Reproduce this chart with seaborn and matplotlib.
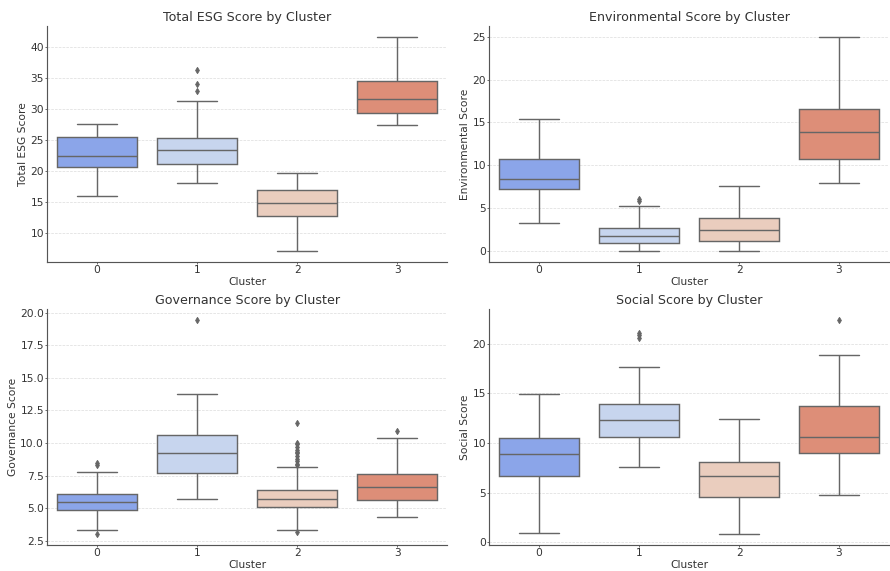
import numpy as np
import pandas as pd
import matplotlib
matplotlib.use("Agg")
import matplotlib.pyplot as plt
import seaborn as sns

clusters = ["0", "1", "2", "3"]

# Box summaries per score: lower whisker, Q1, median, Q3, upper whisker, outliers
esg_whisker_lo = [16.07, 18.05, 7.10, 27.50]
esg_q1 = [20.74, 21.20, 12.79, 29.38]
esg_median = [22.45, 23.37, 14.94, 31.63]
esg_q3 = [25.46, 25.35, 16.92, 34.58]
esg_whisker_hi = [27.66, 31.40, 19.66, 41.72]
esg_outliers = [[], [33.0, 34.1, 36.3], [], []]

env_whisker_lo = [3.33, 0.0, 0.0, 7.95]
env_q1 = [7.21, 0.97, 1.20, 10.70]
env_median = [8.37, 1.74, 2.52, 13.88]
env_q3 = [10.78, 2.75, 3.88, 16.63]
env_whisker_hi = [15.39, 5.31, 7.60, 25.0]
env_outliers = [[], [5.85, 6.1], [], []]

gov_whisker_lo = [3.34, 5.69, 3.30, 4.29]
gov_q1 = [4.88, 7.71, 5.11, 5.59]
gov_median = [5.44, 9.25, 5.67, 6.66]
gov_q3 = [6.05, 10.65, 6.38, 7.64]
gov_whisker_hi = [7.76, 13.74, 8.17, 10.39]
gov_outliers = [[2.99, 8.3, 8.5], [19.46],
                [3.15, 8.3, 8.4, 8.6, 8.8, 9.0, 9.2, 9.3, 9.5, 9.7, 9.9, 10.0, 11.5],
                [10.91]]

soc_whisker_lo = [0.94, 7.56, 0.81, 4.77]
soc_q1 = [6.66, 10.62, 4.57, 8.97]
soc_median = [8.87, 12.34, 6.66, 10.66]
soc_q3 = [10.55, 13.98, 8.10, 13.75]
soc_whisker_hi = [14.96, 17.71, 12.47, 18.86]
soc_outliers = [[], [20.6, 20.9, 21.1], [], [22.42]]

panels = [
    ("Total ESG Score", "Total ESG Score by Cluster",
     esg_whisker_lo, esg_q1, esg_median, esg_q3, esg_whisker_hi, esg_outliers),
    ("Environmental Score", "Environmental Score by Cluster",
     env_whisker_lo, env_q1, env_median, env_q3, env_whisker_hi, env_outliers),
    ("Governance Score", "Governance Score by Cluster",
     gov_whisker_lo, gov_q1, gov_median, gov_q3, gov_whisker_hi, gov_outliers),
    ("Social Score", "Social Score by Cluster",
     soc_whisker_lo, soc_q1, soc_median, soc_q3, soc_whisker_hi, soc_outliers),
]

REP = 20  # weight of each quartile value so the box statistics land on them


def long_table(name, wlo, q1, med, q3, whi, outs):
    rows = []
    for i, c in enumerate(clusters):
        vals = [wlo[i]] + [q1[i]] * REP + [med[i]] * REP + [q3[i]] * REP + [whi[i]] + list(outs[i])
        rows += [(c, v) for v in vals]
    return pd.DataFrame(rows, columns=["Cluster", name])


sns.set_theme(style="whitegrid")
plt.rcParams.update({
    "font.family": ["DejaVu Sans"],
    "axes.edgecolor": "#555555",
    "axes.linewidth": 1.3,
    "axes.titlesize": 14.2,
    "axes.titlecolor": "#333333",
    "axes.labelsize": 12,
    "axes.labelcolor": "#333333",
    "axes.labelpad": 2.5,
    "xtick.labelsize": 12,
    "ytick.labelsize": 12,
    "xtick.color": "#333333",
    "ytick.color": "#333333",
    "xtick.bottom": True,
    "ytick.left": True,
    "xtick.major.size": 2,
    "ytick.major.size": 2,
    "xtick.major.pad": 1.5,
    "ytick.major.pad": 1.5,
    "xtick.major.width": 0.8,
    "ytick.major.width": 0.8,
    "grid.color": "#dddddd",
    "grid.linestyle": "--",
    "grid.linewidth": 0.8,
})

palette = sns.color_palette("coolwarm", 4)

fig, axes = plt.subplots(2, 2, figsize=(890 / 64, 571 / 64), dpi=64)
fig.subplots_adjust(left=0.053, right=0.999, bottom=0.0455, top=0.9545,
                    wspace=0.105, hspace=0.2)

for ax, (name, title, wlo, q1, med, q3, whi, outs) in zip(axes.flat, panels):
    df = long_table(name, wlo, q1, med, q3, whi, outs)
    sns.boxplot(data=df, x="Cluster", y=name, hue="Cluster", palette=palette,
                order=clusters, hue_order=clusters,
                legend=False, ax=ax, linewidth=1.6, linecolor="#666666",
                flierprops={"marker": "d", "markersize": 5,
                            "markerfacecolor": "#666666", "markeredgecolor": "#666666"})
    ax.set_title(title)
    ax.set_xlabel("Cluster")
    ax.set_ylabel(name)
    ax.grid(axis="x", visible=False)
    ax.grid(axis="y", visible=True)
    for s in ("top", "right"):
        ax.spines[s].set_visible(False)

fig.savefig("out.png", dpi=64)
